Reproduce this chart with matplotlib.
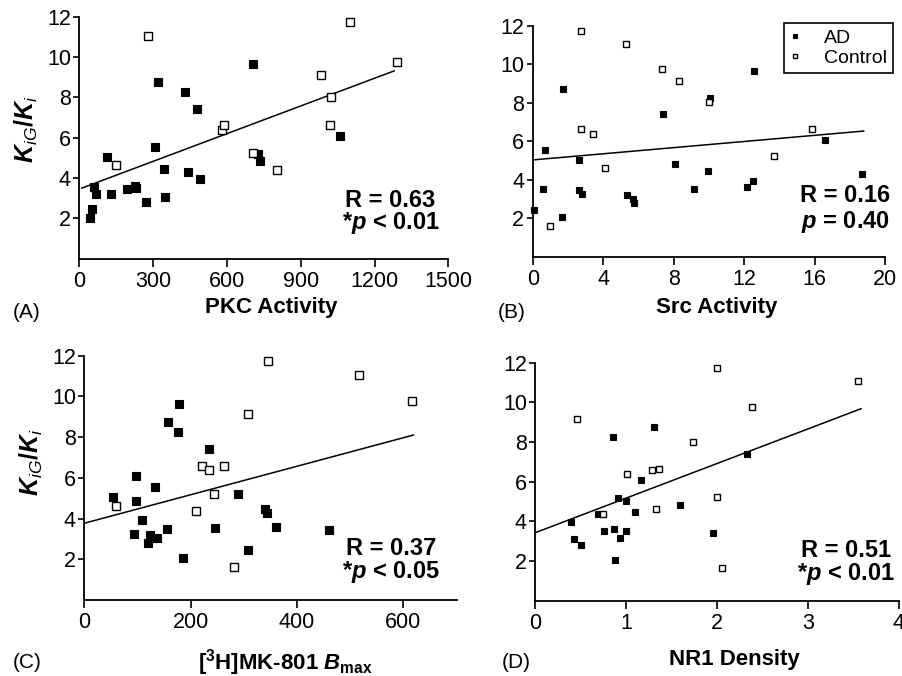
import matplotlib
matplotlib.use("Agg")
import matplotlib.pyplot as plt
import numpy as np

plt.rcParams["font.family"] = ["Liberation Sans", "DejaVu Sans"]
plt.rcParams["mathtext.fontset"] = "custom"
plt.rcParams["mathtext.rm"] = "Liberation Sans"
plt.rcParams["mathtext.it"] = "Liberation Sans:italic"
plt.rcParams["mathtext.bf"] = "Liberation Sans:bold"
plt.rcParams["mathtext.bfit"] = "Liberation Sans:italic:bold"

# ---- data: K_iG/K_i against four measures, AD vs Control ----
pkc_ad_x = [43, 51, 60, 69, 114, 129, 192, 226, 232, 270, 308, 318, 344, 348,
            430, 443, 480, 491, 707, 725, 734, 1058]
pkc_ad_y = [2.03, 2.46, 3.57, 3.19, 5.04, 3.22, 3.45, 3.60, 3.50, 2.79, 5.55,
            8.74, 4.45, 3.04, 8.25, 4.31, 7.42, 3.95, 9.65, 5.17, 4.83, 6.08]
pkc_ctl_x = [148, 278, 579, 589, 705, 804, 984, 1018, 1022, 1102, 1291]
pkc_ctl_y = [4.64, 11.04, 6.40, 6.61, 5.24, 4.40, 9.12, 6.61, 8.00, 11.74, 9.75]

src_ad_x = [0.08, 0.61, 0.68, 1.68, 1.72, 2.61, 2.61, 2.80, 5.35, 5.70, 5.75,
            7.40, 8.10, 9.16, 9.95, 10.05, 12.19, 12.53, 12.56, 16.57, 18.71]
src_ad_y = [2.45, 3.52, 5.55, 2.05, 8.73, 5.04, 3.45, 3.25, 3.19, 3.02, 2.78,
            7.42, 4.82, 3.51, 4.44, 8.25, 3.61, 3.95, 9.65, 6.08, 4.32]
src_ctl_x = [0.98, 2.72, 2.74, 3.41, 4.11, 5.30, 7.36, 8.31, 9.99, 13.70, 15.87]
src_ctl_y = [1.62, 6.62, 11.74, 6.38, 4.63, 11.03, 9.77, 9.11, 8.02, 5.22, 6.62]

mk_ad_x = [54, 93, 97, 97, 108, 120, 124, 133, 137, 155, 157, 176, 179, 185,
           235, 245, 290, 307, 339, 343, 361, 461]
mk_ad_y = [5.04, 3.24, 6.08, 4.85, 3.95, 2.79, 3.18, 5.57, 3.05, 3.49, 8.73,
           8.24, 9.64, 2.05, 7.40, 3.54, 5.19, 2.46, 4.47, 4.29, 3.60, 3.44]
mk_ctl_x = [59, 211, 221, 235, 244, 263, 281, 307, 345, 516, 617]
mk_ctl_y = [4.64, 4.39, 6.60, 6.37, 5.22, 6.60, 1.64, 9.14, 11.74, 11.03, 9.76]

nr1_ad_x = [0.39, 0.43, 0.50, 0.69, 0.76, 0.86, 0.87, 0.88, 0.91, 0.93, 1.00,
            1.00, 1.10, 1.16, 1.31, 1.59, 1.96, 2.33]
nr1_ad_y = [3.95, 3.09, 2.81, 4.35, 3.50, 8.27, 3.61, 2.03, 5.16, 3.18, 5.04,
            3.53, 4.47, 6.07, 8.76, 4.81, 3.43, 7.41]
nr1_ctl_x = [0.46, 0.75, 1.01, 1.29, 1.33, 1.36, 1.74, 2.00, 2.00, 2.06, 2.39, 3.55]
nr1_ctl_y = [9.14, 4.37, 6.37, 6.57, 4.61, 6.62, 8.00, 11.75, 5.23, 1.65, 9.78, 11.06]

# regression lines: intercept, slope, x from, x to
pkc_fit = [3.45, 0.00458, 10, 1280]
src_fit = [5.03, 0.0798, 0, 18.79]
mk_fit = [3.77, 0.007, 0, 619]
nr1_fit = [3.43, 1.743, 0, 3.585]

pkc_xticks = [0, 300, 600, 900, 1200, 1500]
src_xticks = [0, 4, 8, 12, 16, 20]
mk_xticks = [0, 200, 400, 600]
nr1_xticks = [0, 1, 2, 3, 4]
y_ticks = [2, 4, 6, 8, 10, 12]

stats = {
    "A": ("R = 0.63", r"*$\mathbfit{p}$ < 0.01"),
    "B": ("R = 0.16", r"$\mathbfit{p}$ = 0.40"),
    "C": ("R = 0.37", r"*$\mathbfit{p}$ < 0.05"),
    "D": ("R = 0.51", r"*$\mathbfit{p}$ < 0.01"),
}

W, H = 902, 676
fig = plt.figure(figsize=(W / 100, H / 100), dpi=100)


def px_axes(left, right, bottom, top):
    return fig.add_axes([left / W, (H - bottom) / H, (right - left) / W,
                         (bottom - top) / H])


ylabel = r"$\mathbfit{K}_{\mathit{iG}}\mathbf{/}\mathbfit{K}_{\mathit{i}}$"

panels = [
    dict(box=(79.3, 448.3, 258.6, 16.7), adx=pkc_ad_x, ady=pkc_ad_y,
         cx=pkc_ctl_x, cy=pkc_ctl_y, fit=pkc_fit, xt=pkc_xticks, xlim=(0, 1500),
         xlabel="PKC Activity", tag="A", ylab=True, ms=5.2,
         xlab_pos=(271, 297), tag_pos=(27, 312), stat_x=390.5,
         stat_y=(206.7, 229.3), ylab_pos=(26, 129)),
    dict(box=(532.7, 885.0, 256.8, 25.7), adx=src_ad_x, ady=src_ad_y,
         cx=src_ctl_x, cy=src_ctl_y, fit=src_fit, xt=src_xticks, xlim=(0, 20),
         xlabel="Src Activity", tag="B", ylab=False, ms=4.4,
         xlab_pos=(717, 297), tag_pos=(512, 312), stat_x=845.5,
         stat_y=(202.3, 227.7), ylab_pos=None),
    dict(box=(84.3, 456.5, 600.0, 355.7), adx=mk_ad_x, ady=mk_ad_y,
         cx=mk_ctl_x, cy=mk_ctl_y, fit=mk_fit, xt=mk_xticks, xlim=(0, 700),
         xlabel=r"[$^{\mathbf{3}}$H]MK-801 $\mathbfit{B}_{\mathbf{max}}$", tag="C",
         ylab=True, ms=5.2, xlab_pos=(285, 647), tag_pos=(27, 662), stat_x=391,
         stat_y=(555.0, 578.3), ylab_pos=(31, 462)),
    dict(box=(535.3, 898.7, 600.7, 362.7), adx=nr1_ad_x, ady=nr1_ad_y,
         cx=nr1_ctl_x, cy=nr1_ctl_y, fit=nr1_fit, xt=nr1_xticks, xlim=(0, 4),
         xlabel="NR1 Density", tag="D", ylab=False, ms=4.4,
         xlab_pos=(734, 649), tag_pos=(516, 662), stat_x=846,
         stat_y=(556.7, 580.0), ylab_pos=None),
]

for p in panels:
    left, right, bottom, top = p["box"]
    ax = px_axes(left, right, bottom, top)
    ax.set_xlim(*p["xlim"])
    ax.set_ylim(0, 12)
    for s in ("top", "right"):
        ax.spines[s].set_visible(False)
    for s in ("left", "bottom"):
        ax.spines[s].set_linewidth(1.3)
    ax.set_xticks(p["xt"])
    ax.set_yticks(y_ticks)
    ax.tick_params(axis="x", direction="out", length=6, width=1.2, pad=3,
                   labelsize=15.5)
    ax.tick_params(axis="y", direction="out", length=4, width=1.2, pad=2,
                   labelsize=15.5)

    b0, b1, x0, x1 = p["fit"]
    fx = np.array([x0, x1])
    ax.plot(fx, b0 + b1 * fx, color="black", lw=1.1, zorder=2)

    ax.plot(p["adx"], p["ady"], ls="none", marker="s", ms=p["ms"],
            mfc="black", mec="black", mew=0.8, clip_on=False, zorder=3,
            label="AD")
    ax.plot(p["cx"], p["cy"], ls="none", marker="s", ms=p["ms"],
            mfc="white", mec="black", mew=1.0, clip_on=False, zorder=3,
            label="Control")

    # labels placed in pixel space
    xl, yl = p["xlab_pos"]
    fig.text(xl / W, (H - yl) / H, p["xlabel"], ha="center", va="top",
             fontsize=16, fontweight="bold")
    tx, ty = p["tag_pos"]
    fig.text(tx / W, (H - ty) / H, "(%s)" % p["tag"], ha="center",
             va="center", fontsize=15)
    if p["ylab"]:
        yx, yy = p["ylab_pos"]
        fig.text(yx / W, (H - yy) / H, ylabel, rotation=90, ha="center",
                 va="center", fontsize=18)

    r_txt, p_txt = stats[p["tag"]]
    sx = p["stat_x"] / W
    fig.text(sx, (H - p["stat_y"][0]) / H, r_txt, ha="center", va="baseline",
             fontsize=17, fontweight="bold")
    fig.text(sx, (H - p["stat_y"][1]) / H, p_txt, ha="center", va="baseline",
             fontsize=17, fontweight="bold")

    if p["tag"] == "B":
        leg = ax.legend(loc="upper right", bbox_to_anchor=(1.022, 1.010),
                        borderaxespad=0, frameon=True, fancybox=False,
                        fontsize=14, markerscale=0.8, handlelength=0.45,
                        handletextpad=1.25, labelspacing=0.1, borderpad=0.32)
        fr = leg.get_frame()
        fr.set_edgecolor("black")
        fr.set_linewidth(1.2)
        fr.set_alpha(1)

fig.savefig("out.png", dpi=100)
